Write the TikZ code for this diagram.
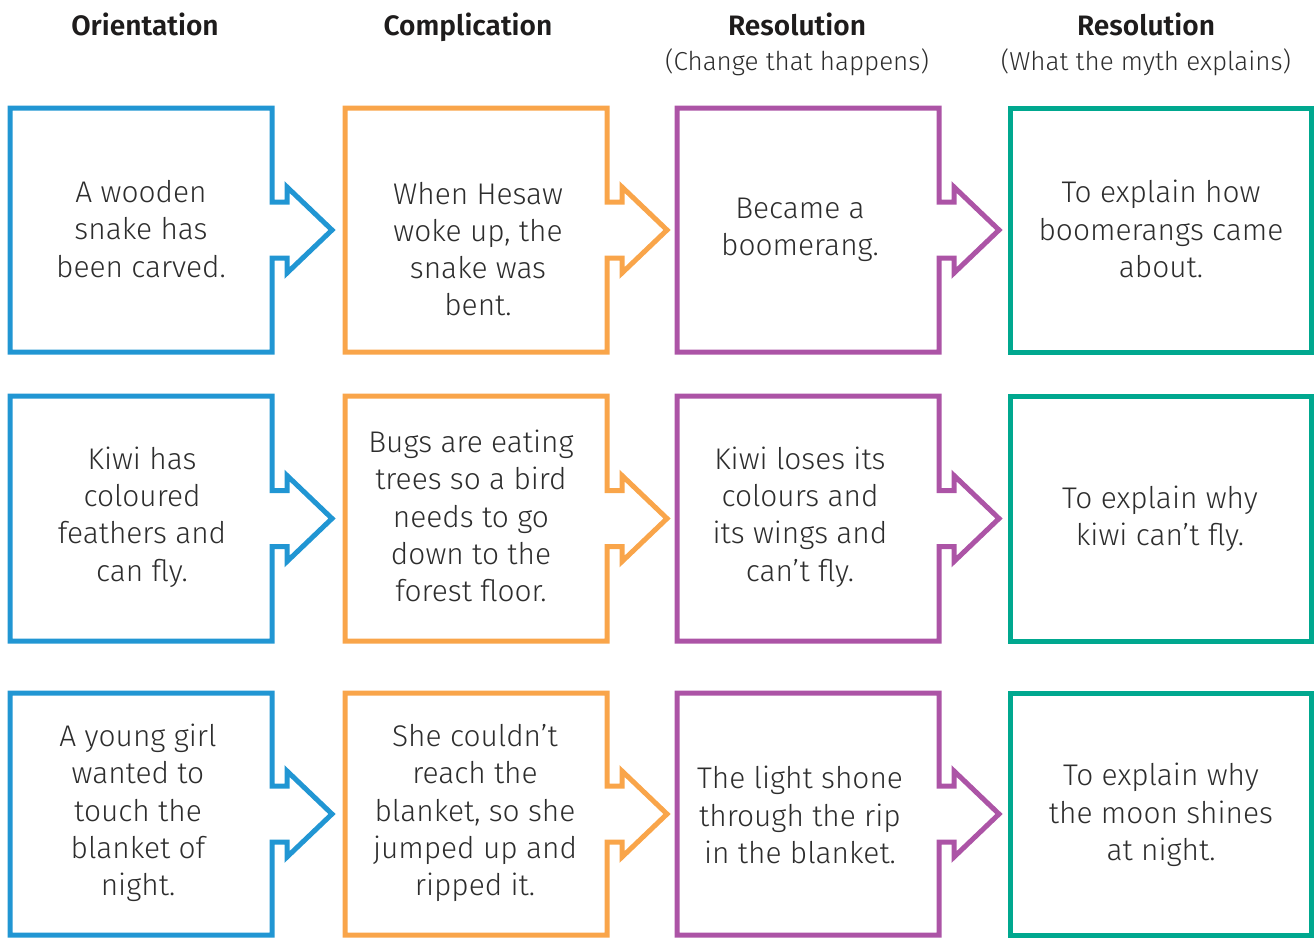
\documentclass[tikz,border=0pt]{standalone}
\usepackage{fontspec}
\setmainfont{Fira Sans}[UprightFont=* Light, BoldFont=* SemiBold]
\usepackage{tikz}
\definecolor{oblue}{RGB}{33, 150, 211}
\definecolor{oorange}{RGB}{249, 165, 74}
\definecolor{opurple}{RGB}{172, 84, 166}
\definecolor{oteal}{RGB}{0, 168, 143}
\definecolor{txtgray}{RGB}{45, 45, 45}
\definecolor{headblack}{RGB}{30, 28, 28}

\begin{document}
\begin{tikzpicture}[x=0.1mm, y=-0.1mm,
    boxline/.style={line width=0.5mm},
    boxtext/.style={text=txtgray, align=center, font=\fontsize{8.5}{10.6}\selectfont},
    head/.style={text=headblack, anchor=base, font=\fontsize{8}{10}\selectfont\bfseries},
    sub/.style={text=txtgray, anchor=base, font=\fontsize{7.4}{9}\selectfont}]
  \useasboundingbox (0,0) rectangle (1316,937);
  % boxes with arrow notch on the right
  \foreach \T/\B in {108/352, 396/641, 693/935} {
    \pgfmathsetmacro{\C}{(\T+\B)/2}
    \foreach \L/\R/\col in {10/272/oblue, 345/607/oorange, 677/939/opurple} {
      \draw[boxline, \col] (\L,\T) -- (\R,\T) -- (\R,\C-28) -- (\R+15,\C-28)
        -- (\R+15,\C-43) -- (\R+60,\C) -- (\R+15,\C+43) -- (\R+15,\C+28)
        -- (\R,\C+28) -- (\R,\B) -- (\L,\B) -- cycle;
    }
    \draw[boxline, oteal] (1010,\T) rectangle (1311,\B);
  }
  % column headings
  \node[head] (hOrient) at (145,35) {Orientation};
  \node[head] (hCompl)  at (468,35) {Complication};
  \node[head] (hChange) at (797,35) {Resolution};
  \node[sub]  (sChange) at (797,70) {(Change that happens)};
  \node[head] (hMyth)   at (1146,35) {Resolution};
  \node[sub]  (sMyth)   at (1146,70) {(What the myth explains)};
  % row 1
  \node[boxtext] (orient1) at (141,229) {A wooden\\snake has\\been carved.};
  \node[boxtext] (compl1)  at (478,249) {When Hesaw\\woke up, the\\snake was\\bent.};
  \node[boxtext] (change1) at (800,230) {Became a\\boomerang.};
  \node[boxtext] (myth1)   at (1161,229) {To explain how\\boomerangs came\\about.};
  % row 2
  \node[boxtext] (orient2) at (142,517) {Kiwi has\\coloured\\feathers and\\can fly.};
  \node[boxtext] (compl2)  at (471,516) {Bugs are eating\\trees so a bird\\needs to go\\down to the\\forest floor.};
  \node[boxtext] (change2) at (800,517) {Kiwi loses its\\colours and\\its wings and\\can't fly.};
  \node[boxtext] (myth2)   at (1160,519) {To explain why\\kiwi can't fly.};
  % row 3
  \node[boxtext] (orient3) at (138,813) {A young girl\\wanted to\\touch the\\blanket of\\night.};
  \node[boxtext] (compl3)  at (475,813) {She couldn't\\reach the\\blanket, so she\\jumped up and\\ripped it.};
  \node[boxtext] (change3) at (800,815) {The light shone\\through the rip\\in the blanket.};
  \node[boxtext] (myth3)   at (1161,815) {To explain why\\the moon shines\\at night.};
\end{tikzpicture}
\end{document}
